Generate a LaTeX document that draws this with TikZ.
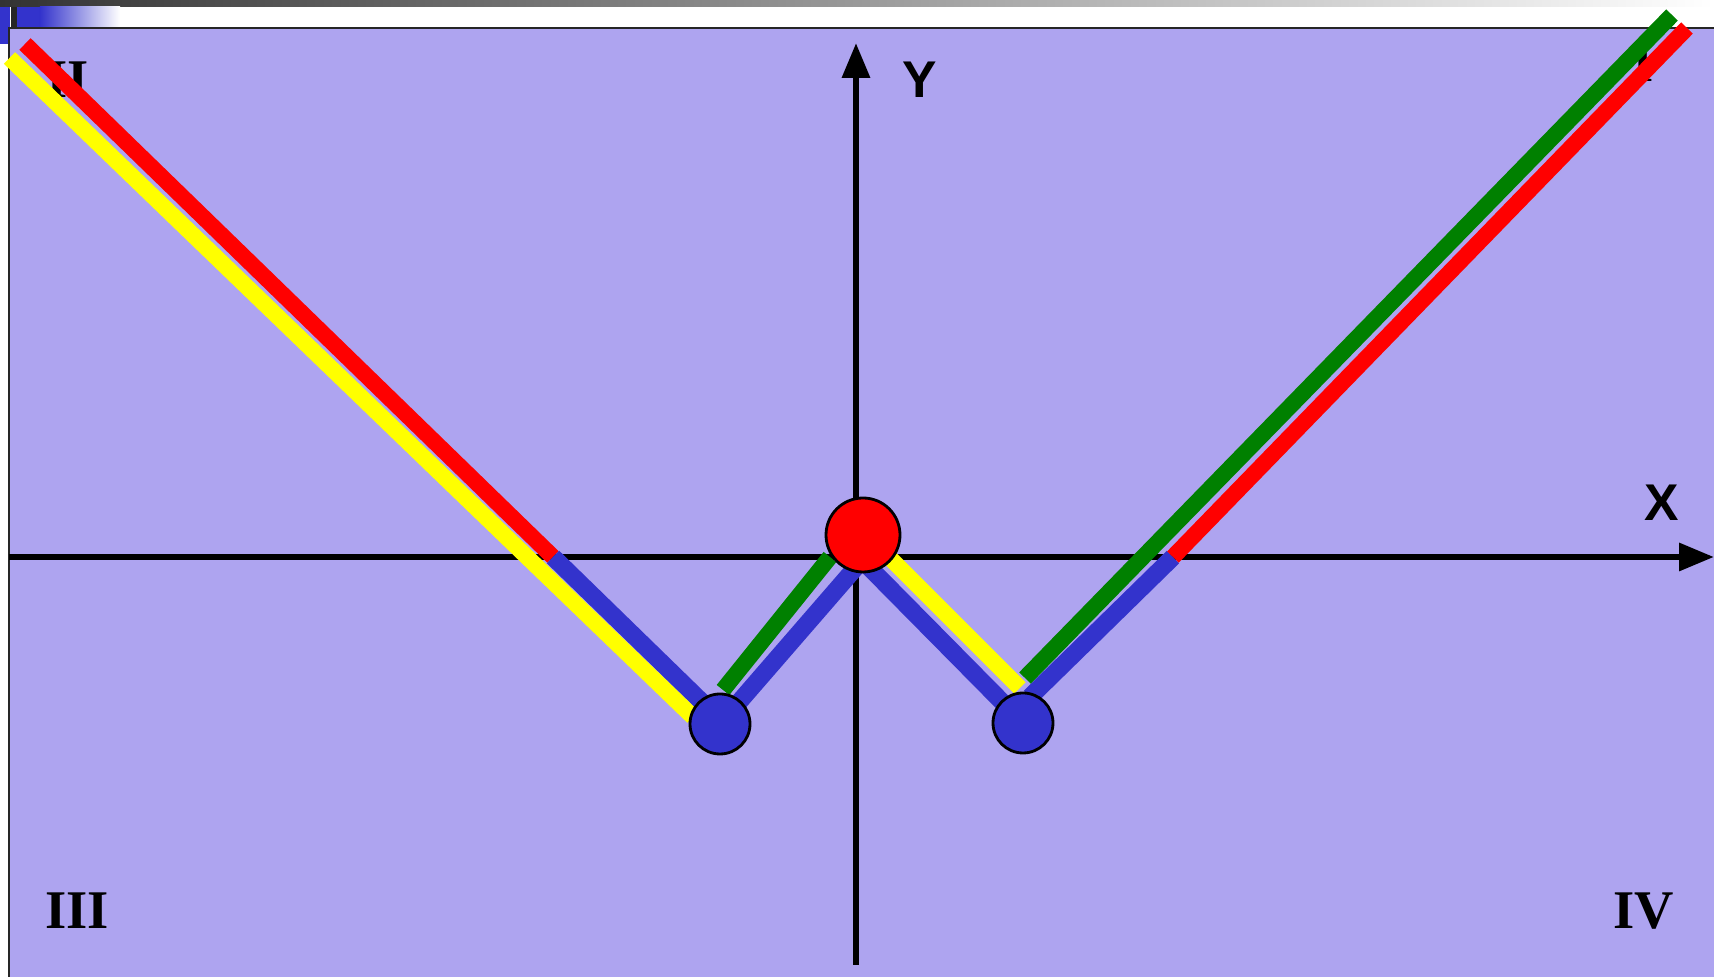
\documentclass[tikz,border=0pt]{standalone}
\usepackage{fontspec}
\newfontfamily\quadfont{Liberation Serif}
\newfontfamily\axisfont{Liberation Sans}
\usetikzlibrary{arrows.meta}
\definecolor{panelbg}{RGB}{174,164,240}
\definecolor{dotblue}{RGB}{51,51,204}
\definecolor{bondyellow}{RGB}{255,255,0}
\definecolor{bondgreen}{RGB}{0,128,0}

\begin{document}
\begin{tikzpicture}[
      quadrant/.style={font=\quadfont\bfseries\fontsize{15.5}{18}\selectfont, inner sep=0pt},
      axislbl/.style={font=\axisfont\bfseries\fontsize{14.7}{17}\selectfont, inner sep=0pt},
      axis/.style={line width=1.8pt, -{Triangle[length=3.5mm, width=2.7mm]}},
      bond/.style={line width=4.6pt},
      chain/.style={line width=5pt, dotblue},
      bigdot/.style={circle, draw=black, line width=0.8pt, fill=red, minimum size=7.4mm, inner sep=0pt},
      smalldot/.style={circle, draw=black, line width=0.8pt, fill=dotblue, minimum size=6mm, inner sep=0pt},
    ]
    \useasboundingbox (0,0) rectangle (17.14,-9.77);

    % Slide frame
    \shade[left color=black!80, right color=white] (0,0) rectangle (17.14,-0.07);
    \fill[dotblue] (0,-0.07) rectangle (0.10,-0.44);
    \fill[dotblue] (0.17,-0.07) rectangle (0.40,-0.28);
    \shade[left color=dotblue, right color=white] (0.40,-0.07) rectangle (1.20,-0.28);
    \fill[black!85] (0.11,-0.07) rectangle (0.17,-0.28);
    \fill[panelbg] (0.09,-0.28) rectangle (17.14,-9.77);
    \draw[black!85, line width=0.7pt] (0.09,-9.77) -- (0.09,-0.28) -- (17.14,-0.28);

    % Quadrant labels
    \foreach \x/\y/\name in {16.43/-0.64/I, 0.68/-0.80/II, 0.77/-9.11/III, 16.44/-9.11/IV}
      \node[quadrant] (q\name) at (\x,\y) {\name};

    % Axes
    \coordinate (xs) at (0.09,-5.57);
    \coordinate (xe) at (17.14,-5.57);
    \coordinate (ys) at (8.56,-9.65);
    \coordinate (ye) at (8.56,-0.43);
    \draw[axis] (xs) -- (xe);
    \draw[axis] (ys) -- (ye);
    \node[axislbl] (xlbl) at (16.62,-5.03) {X};
    \node[axislbl] (ylbl) at (9.20,-0.80) {Y};

    % Atoms
    \coordinate (l) at (7.20,-7.24);
    \coordinate (m) at (8.63,-5.35);
    \coordinate (r) at (10.23,-7.23);
    % bond ends (hidden under the dots)
    \coordinate (la) at (7.05,-7.05);
    \coordinate (lm) at (8.57,-5.66);
    \coordinate (rm) at (8.55,-5.53);
    \coordinate (ra) at (10.30,-6.97);
    \coordinate (lc) at (5.53,-5.57);
    \coordinate (rc) at (11.73,-5.57);
    \coordinate (lt) at (0.25,-0.44);
    \coordinate (rt) at (16.87,-0.28);

    % Bonds
    \draw[bond, red] (lt) -- (lc);
    \draw[chain] (lc) -- (la);
    \draw[chain] (l) -- (lm);
    \draw[chain] (r) -- (rm);
    \draw[chain] (ra) -- (rc);
    \draw[bond, red] (rc) -- (rt);
    \coordinate (ya1) at (0.095,-0.58);
    \coordinate (ya2) at (6.93,-7.17);
    \draw[bond, bondyellow] (ya1) -- (ya2);
    \coordinate (ga1) at (7.23,-6.90);
    \coordinate (ga2) at (8.30,-5.57);
    \draw[bond, bondgreen] (ga1) -- (ga2);
    \coordinate (yb1) at (8.88,-5.56);
    \coordinate (yb2) at (10.20,-6.88);
    \draw[bond, bondyellow] (yb1) -- (yb2);
    \coordinate (gb1) at (10.25,-6.78);
    \coordinate (gb2) at (16.72,-0.15);
    \draw[bond, bondgreen] (gb1) -- (gb2);

    \node[smalldot] (ldot) at (l) {};
    \node[smalldot] (rdot) at (r) {};
    \node[bigdot] (mdot) at (m) {};
  \end{tikzpicture}
\end{document}
